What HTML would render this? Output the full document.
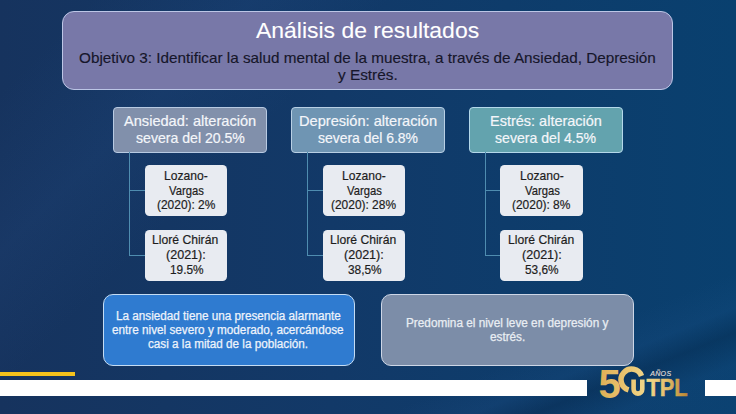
<!DOCTYPE html>
<html><head><meta charset="utf-8">
<style>
html,body{margin:0;padding:0;}
body{width:736px;height:414px;overflow:hidden;position:relative;background:linear-gradient(135deg, rgba(50,100,170,0) 8%, rgba(50,100,170,0.10) 22%, rgba(50,100,170,0) 34%), linear-gradient(158deg, rgba(60,110,180,0) 80%, rgba(60,110,180,0.07) 85%, rgba(0,10,30,0.16) 88.5%, rgba(60,110,180,0.05) 93%, rgba(60,110,180,0.04) 100%), linear-gradient(90deg,#16335e 0%,#123968 45%,#09406f 100%);font-family:"Liberation Sans",sans-serif;}
.t{position:absolute;white-space:nowrap;transform-origin:0 0;}
.box{position:absolute;box-sizing:border-box;}
.ln{position:absolute;background:#4f8db0;}
</style></head><body>
<div class="box" style="left:62.45px;top:10.75px;width:611.00px;height:79.60px;background:#7878a8;border:1.5px solid #bcc6e6;border-radius:12px"></div>
<div class="box" style="left:113.25px;top:106.75px;width:153.90px;height:46.20px;background:#8190ab;border:1.5px solid #b8cae2;border-radius:4px"></div>
<div class="box" style="left:291.25px;top:106.75px;width:154.00px;height:46.20px;background:#6f95b3;border:1.5px solid #b8cfe4;border-radius:4px"></div>
<div class="box" style="left:468.75px;top:106.75px;width:154.40px;height:46.20px;background:#63a3ae;border:1.5px solid #b4d8ea;border-radius:4px"></div>
<div class="ln" style="left:128.60px;top:152px;width:1.2px;height:104px"></div>
<div class="ln" style="left:128.60px;top:189.80px;width:17px;height:1.2px"></div>
<div class="ln" style="left:128.60px;top:254.80px;width:17px;height:1.2px"></div>
<div class="ln" style="left:306.70px;top:152px;width:1.2px;height:104px"></div>
<div class="ln" style="left:306.70px;top:189.80px;width:17px;height:1.2px"></div>
<div class="ln" style="left:306.70px;top:254.80px;width:17px;height:1.2px"></div>
<div class="ln" style="left:484.60px;top:152px;width:1.2px;height:104px"></div>
<div class="ln" style="left:484.60px;top:189.80px;width:17px;height:1.2px"></div>
<div class="ln" style="left:484.60px;top:254.80px;width:17px;height:1.2px"></div>
<div class="box" style="left:144.50px;top:165.00px;width:82.50px;height:51.00px;background:#e8ebf1;border-radius:4.5px"></div>
<div class="box" style="left:144.50px;top:230.00px;width:82.50px;height:51.00px;background:#e8ebf1;border-radius:4.5px"></div>
<div class="box" style="left:322.80px;top:165.00px;width:82.00px;height:51.00px;background:#e8ebf1;border-radius:4.5px"></div>
<div class="box" style="left:322.80px;top:230.00px;width:82.00px;height:51.00px;background:#e8ebf1;border-radius:4.5px"></div>
<div class="box" style="left:500.00px;top:165.00px;width:83.00px;height:51.00px;background:#e8ebf1;border-radius:4.5px"></div>
<div class="box" style="left:500.00px;top:230.00px;width:83.00px;height:51.00px;background:#e8ebf1;border-radius:4.5px"></div>
<div class="box" style="left:102.55px;top:294.05px;width:252.80px;height:72.10px;background:#2f7bd0;border:1.5px solid #c4dcf4;border-radius:10px"></div>
<div class="box" style="left:380.75px;top:294.25px;width:252.80px;height:71.90px;background:#7c8da8;border:1.5px solid #cdd6e6;border-radius:10px"></div>




<div style="position:absolute;left:0;top:372px;width:75px;height:4.4px;background:#f4c21c"></div>
<div style="position:absolute;left:0;top:379.5px;width:587px;height:16.5px;background:#ffffff"></div>
<div style="position:absolute;left:705px;top:379.5px;width:31px;height:16.5px;background:#ffffff"></div>
<div class="t" style="left:256.00px;top:19.81px;font-size:22.2px;line-height:22.2px;color:#ffffff;transform:scaleX(1.0337);-webkit-text-stroke:0.1px #ffffff">Análisis de resultados</div>
<div class="t" style="left:79.20px;top:50.30px;font-size:15px;line-height:15px;color:#16162a;transform:scaleX(1.0188);-webkit-text-stroke:0.15px #16162a">Objetivo 3: Identificar la salud mental de la muestra, a través de Ansiedad, Depresión</div>
<div class="t" style="left:338.30px;top:66.90px;font-size:15px;line-height:15px;color:#16162a;transform:scaleX(1.0231);-webkit-text-stroke:0.15px #16162a">y Estrés.</div>
<div class="t" style="left:123.70px;top:113.54px;font-size:14.6px;line-height:14.6px;color:#f4f6fa;transform:scaleX(0.9998);-webkit-text-stroke:0.2px #f4f6fa">Ansiedad: alteración</div>
<div class="t" style="left:135.60px;top:131.04px;font-size:14.6px;line-height:14.6px;color:#f4f6fa;transform:scaleX(0.9655);-webkit-text-stroke:0.2px #f4f6fa">severa del 20.5%</div>
<div class="t" style="left:298.80px;top:113.54px;font-size:14.6px;line-height:14.6px;color:#f4f6fa;transform:scaleX(1.0008);-webkit-text-stroke:0.2px #f4f6fa">Depresión: alteración</div>
<div class="t" style="left:318.30px;top:131.04px;font-size:14.6px;line-height:14.6px;color:#f4f6fa;transform:scaleX(0.9553);-webkit-text-stroke:0.2px #f4f6fa">severa del 6.8%</div>
<div class="t" style="left:489.71px;top:113.54px;font-size:14.6px;line-height:14.6px;color:#f4f6fa;transform:scaleX(0.9926);-webkit-text-stroke:0.2px #f4f6fa">Estrés: alteración</div>
<div class="t" style="left:495.40px;top:131.04px;font-size:14.6px;line-height:14.6px;color:#f4f6fa;transform:scaleX(0.9659);-webkit-text-stroke:0.2px #f4f6fa">severa del 4.5%</div>
<div class="t" style="left:116.00px;top:309.64px;font-size:12px;line-height:12px;color:#eef3fb;transform:scaleX(0.9762);-webkit-text-stroke:0.25px #eef3fb">La ansiedad tiene una presencia alarmante</div>
<div class="t" style="left:112.40px;top:323.94px;font-size:12px;line-height:12px;color:#eef3fb;transform:scaleX(0.9780);-webkit-text-stroke:0.25px #eef3fb">entre nivel severo y moderado, acercándose</div>
<div class="t" style="left:148.30px;top:338.14px;font-size:12px;line-height:12px;color:#eef3fb;transform:scaleX(0.9752);-webkit-text-stroke:0.25px #eef3fb">casi a la mitad de la población.</div>
<div class="t" style="left:406.10px;top:316.94px;font-size:12px;line-height:12px;color:#e9edf3;transform:scaleX(0.9819);-webkit-text-stroke:0.25px #e9edf3">Predomina el nivel leve en depresión y</div>
<div class="t" style="left:489.60px;top:331.04px;font-size:12px;line-height:12px;color:#e9edf3;transform:scaleX(0.9782);-webkit-text-stroke:0.25px #e9edf3">estrés.</div>
<div class="t" style="left:163.76px;top:169.86px;font-size:12.8px;line-height:12.8px;color:#1d1d1d;transform:scaleX(0.9448);-webkit-text-stroke:0.2px #1d1d1d">Lozano-</div>
<div class="t" style="left:168.90px;top:184.76px;font-size:12.8px;line-height:12.8px;color:#1d1d1d;transform:scaleX(0.8801);-webkit-text-stroke:0.2px #1d1d1d">Vargas</div>
<div class="t" style="left:156.70px;top:199.06px;font-size:12.8px;line-height:12.8px;color:#1d1d1d;transform:scaleX(0.9322);-webkit-text-stroke:0.2px #1d1d1d">(2020): 2%</div>
<div class="t" style="left:152.25px;top:233.96px;font-size:12.8px;line-height:12.8px;color:#1d1d1d;transform:scaleX(0.9491);-webkit-text-stroke:0.2px #1d1d1d">Lloré Chirán</div>
<div class="t" style="left:166.20px;top:248.56px;font-size:12.8px;line-height:12.8px;color:#1d1d1d;transform:scaleX(0.9802);-webkit-text-stroke:0.2px #1d1d1d">(2021):</div>
<div class="t" style="left:169.60px;top:264.06px;font-size:12.8px;line-height:12.8px;color:#1d1d1d;transform:scaleX(0.9246);-webkit-text-stroke:0.2px #1d1d1d">19.5%</div>
<div class="t" style="left:341.76px;top:169.86px;font-size:12.8px;line-height:12.8px;color:#1d1d1d;transform:scaleX(0.9448);-webkit-text-stroke:0.2px #1d1d1d">Lozano-</div>
<div class="t" style="left:346.90px;top:184.76px;font-size:12.8px;line-height:12.8px;color:#1d1d1d;transform:scaleX(0.8801);-webkit-text-stroke:0.2px #1d1d1d">Vargas</div>
<div class="t" style="left:331.38px;top:199.06px;font-size:12.8px;line-height:12.8px;color:#1d1d1d;transform:scaleX(0.9322);-webkit-text-stroke:0.2px #1d1d1d">(2020): 28%</div>
<div class="t" style="left:330.25px;top:233.96px;font-size:12.8px;line-height:12.8px;color:#1d1d1d;transform:scaleX(0.9491);-webkit-text-stroke:0.2px #1d1d1d">Lloré Chirán</div>
<div class="t" style="left:344.20px;top:248.56px;font-size:12.8px;line-height:12.8px;color:#1d1d1d;transform:scaleX(0.9802);-webkit-text-stroke:0.2px #1d1d1d">(2021):</div>
<div class="t" style="left:347.60px;top:264.06px;font-size:12.8px;line-height:12.8px;color:#1d1d1d;transform:scaleX(0.9246);-webkit-text-stroke:0.2px #1d1d1d">38,5%</div>
<div class="t" style="left:519.51px;top:169.86px;font-size:12.8px;line-height:12.8px;color:#1d1d1d;transform:scaleX(0.9448);-webkit-text-stroke:0.2px #1d1d1d">Lozano-</div>
<div class="t" style="left:524.65px;top:184.76px;font-size:12.8px;line-height:12.8px;color:#1d1d1d;transform:scaleX(0.8801);-webkit-text-stroke:0.2px #1d1d1d">Vargas</div>
<div class="t" style="left:512.45px;top:199.06px;font-size:12.8px;line-height:12.8px;color:#1d1d1d;transform:scaleX(0.9322);-webkit-text-stroke:0.2px #1d1d1d">(2020): 8%</div>
<div class="t" style="left:508.00px;top:233.96px;font-size:12.8px;line-height:12.8px;color:#1d1d1d;transform:scaleX(0.9491);-webkit-text-stroke:0.2px #1d1d1d">Lloré Chirán</div>
<div class="t" style="left:521.95px;top:248.56px;font-size:12.8px;line-height:12.8px;color:#1d1d1d;transform:scaleX(0.9802);-webkit-text-stroke:0.2px #1d1d1d">(2021):</div>
<div class="t" style="left:525.35px;top:264.06px;font-size:12.8px;line-height:12.8px;color:#1d1d1d;transform:scaleX(0.9246);-webkit-text-stroke:0.2px #1d1d1d">53,6%</div>

<svg style="position:absolute;left:0;top:0" width="736" height="414" viewBox="0 0 736 414">
<defs>
<linearGradient id="gd" x1="598" y1="0" x2="690" y2="0" gradientUnits="userSpaceOnUse">
<stop offset="0" stop-color="#dcae55"/><stop offset="0.35" stop-color="#ecc874"/><stop offset="0.55" stop-color="#f1d88e"/><stop offset="1" stop-color="#b9862f"/>
</linearGradient>
<linearGradient id="gd2" x1="0" y1="0" x2="1" y2="0"><stop offset="0" stop-color="#f1d98c"/><stop offset="0.45" stop-color="#e6c170"/><stop offset="1" stop-color="#b9852f"/></linearGradient>
</defs>
<text x="598.5" y="397.6" font-family="Liberation Sans" font-weight="bold" font-size="40" fill="url(#gd)">5</text>
<path d="M641.5,375.9 A10.6,10.6 0 1 0 628.6,389.9" fill="none" stroke="url(#gd)" stroke-width="5.5"/>
<path d="M633.6,379.4 V389.3 a4.35,4.35 0 0 0 8.7,0 V379.4" fill="none" stroke="url(#gd)" stroke-width="4.6"/>
<text transform="translate(646.4,395.8) scale(0.92,1)" font-family="Liberation Sans" font-weight="bold" font-size="23.8" fill="url(#gd2)" stroke="url(#gd2)" stroke-width="0.5">TPL</text>
<text x="650.2" y="375.8" font-family="Liberation Sans" font-style="italic" font-size="7" fill="#e2ded8" stroke="#e2ded8" stroke-width="0.15" letter-spacing="0.35">AÑOS</text>
</svg>
</body></html>
